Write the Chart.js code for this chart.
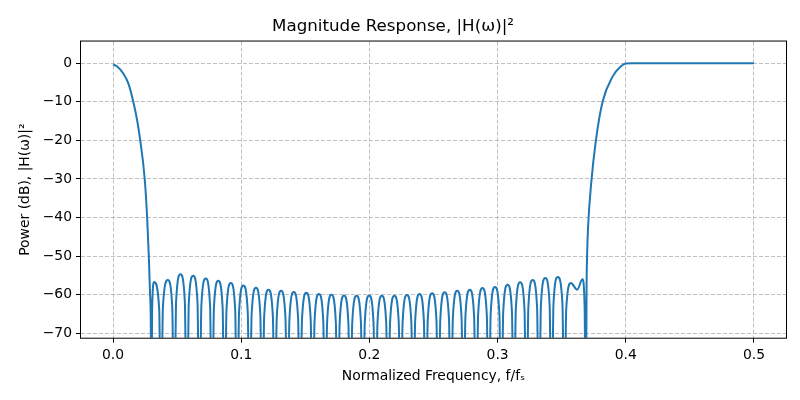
<!DOCTYPE html>
<html>
<head>
<meta charset="utf-8">
<script src="https://cdn.jsdelivr.net/npm/chart.js@4.4.0/dist/chart.umd.min.js"></script>
<style>
  html, body { margin: 0; padding: 0; background: #fff; }
</style>
</head>
<body>
<canvas id="resp" width="800" height="400"></canvas>
<script>
// low passband edge (f/fs, dB)
var lowFreq = [0, 0.003, 0.008, 0.012, 0.0158, 0.0189, 0.0212, 0.0247, 0.0266, 0.0279, 0.0289, 0.0295];
var lowDb   = [-0.35, -0.8, -2.7, -5.3, -10, -15, -20, -30, -40, -50, -60, -70];

// stopband lobes: null (drops below the axis), shoulder, peak, shoulder
var stopFreq = [
  0.0297, 0.0305, 0.0320, 0.0360,
  0.0374, 0.0389, 0.0427, 0.0462,
  0.0477, 0.0492, 0.0526, 0.0560,
  0.0576, 0.0591, 0.0625, 0.0659,
  0.0674, 0.0689, 0.0723, 0.0757,
  0.0772, 0.0787, 0.0821, 0.0855,
  0.0870, 0.0885, 0.0919, 0.0953,
  0.0968, 0.0983, 0.1017, 0.1051,
  0.1066, 0.1081, 0.1115, 0.1149,
  0.1164, 0.1179, 0.1213, 0.1247,
  0.1262, 0.1277, 0.1311, 0.1345,
  0.1361, 0.1376, 0.1410, 0.1444,
  0.1459, 0.1474, 0.1508, 0.1542,
  0.1557, 0.1572, 0.1606, 0.1640,
  0.1655, 0.1670, 0.1704, 0.1738,
  0.1753, 0.1768, 0.1802, 0.1836,
  0.1851, 0.1866, 0.1900, 0.1934,
  0.1949, 0.1964, 0.1998, 0.2032,
  0.2048, 0.2063, 0.2097, 0.2131,
  0.2146, 0.2161, 0.2195, 0.2229,
  0.2244, 0.2259, 0.2293, 0.2327,
  0.2342, 0.2357, 0.2391, 0.2425,
  0.2440, 0.2455, 0.2489, 0.2523,
  0.2538, 0.2553, 0.2587, 0.2621,
  0.2636, 0.2651, 0.2685, 0.2719,
  0.2734, 0.2749, 0.2783, 0.2817,
  0.2833, 0.2848, 0.2882, 0.2916,
  0.2931, 0.2946, 0.2980, 0.3014,
  0.3029, 0.3044, 0.3078, 0.3112,
  0.3127, 0.3142, 0.3176, 0.3210,
  0.3225, 0.3240, 0.3274, 0.3308,
  0.3323, 0.3338, 0.3372, 0.3406,
  0.3421, 0.3436, 0.3470, 0.3506,
  0.3522, 0.3535, 0.3572, 0.3621, 0.3662, 0.3679
];
var stopDb = [
  -100, -63.7, -56.7, -63.7,
  -100, -63.2, -56.2, -63.2,
  -100, -61.7, -54.7, -61.7,
  -100, -62.1, -55.1, -62.1,
  -100, -62.8, -55.8, -62.8,
  -100, -63.4, -56.4, -63.4,
  -100, -64.0, -57.0, -64.0,
  -100, -64.6, -57.6, -64.6,
  -100, -65.2, -58.2, -65.2,
  -100, -65.7, -58.7, -65.7,
  -100, -66.0, -59.0, -66.0,
  -100, -66.3, -59.3, -66.3,
  -100, -66.5, -59.5, -66.5,
  -100, -66.8, -59.8, -66.8,
  -100, -67.0, -60.0, -67.0,
  -100, -67.2, -60.2, -67.2,
  -100, -67.3, -60.3, -67.3,
  -100, -67.2, -60.2, -67.2,
  -100, -67.3, -60.3, -67.3,
  -100, -67.3, -60.3, -67.3,
  -100, -67.1, -60.1, -67.1,
  -100, -66.8, -59.8, -66.8,
  -100, -66.6, -59.6, -66.6,
  -100, -66.4, -59.4, -66.4,
  -100, -66.0, -59.0, -66.0,
  -100, -65.7, -58.7, -65.7,
  -100, -65.3, -58.3, -65.3,
  -100, -65.0, -58.0, -65.0,
  -100, -64.4, -57.4, -64.4,
  -100, -63.8, -56.8, -63.8,
  -100, -63.2, -56.2, -63.2,
  -100, -62.7, -55.7, -62.7,
  -100, -62.4, -55.4, -62.4,
  -100, -64.0, -57.0, -58.7, -56.0, -63.0
];

// high passband edge
var highFreq = [0.3688, 0.3694, 0.3698, 0.3706, 0.3730, 0.3767, 0.3819, 0.3897, 0.3962, 0.4001, 0.4060, 0.4200, 0.5000];
var highDb   = [-100, -58.9, -50.2, -42.4, -31.2, -20.0, -10.0, -3.5, -0.8, -0.1, -0.02, 0, 0];

var xTicks = [0, 0.1, 0.2, 0.3, 0.4, 0.5];
var yTicks = [0, -10, -20, -30, -40, -50, -60, -70];

var freq = lowFreq.concat(stopFreq, highFreq);
var power = lowDb.concat(stopDb, highDb);
var points = freq.map(function(f, i){
  return {x: f, y: power[i]};
});

var FONT = "'DejaVu Sans', sans-serif";
Chart.defaults.color = '#000';
Chart.defaults.font.family = FONT;

// black box round the plot area, like the axes spines
var frame = {
  id: 'frame',
  afterDraw: function(chart){
    var a = chart.chartArea;
    var c = chart.ctx;
    c.save();
    c.strokeStyle = '#000';
    c.lineWidth = 1;
    c.strokeRect(a.left - 0.5, a.top - 0.5, a.right - a.left + 1, a.bottom - a.top + 1);
    c.restore();
  }
};

var gridOpts = {
  color: '#b0b0b0',
  lineWidth: 0.8,
  tickLength: 5,
  tickColor: '#000',
  tickWidth: 1
};

new Chart(document.getElementById('resp'), {
  type: 'line',
  data: {
    datasets: [{
      data: points,
      borderColor: '#1f77b4',
      borderWidth: 2,
      pointRadius: 0,
      cubicInterpolationMode: 'monotone',
      fill: false,
      clip: 0
    }]
  },
  options: {
    responsive: false,
    animation: false,
    devicePixelRatio: 1,
    layout: { padding: { left: 0, right: 14, top: 0, bottom: 0 } },
    plugins: {
      legend: { display: false },
      tooltip: { enabled: false },
      title: {
        display: true,
        text: 'Magnitude Response, |H(\u03c9)|\u00b2',
        font: { size: 16.7, weight: 'normal' },
        color: '#000',
        padding: { top: 17, bottom: 4.5 }
      }
    },
    scales: {
      x: {
        type: 'linear',
        min: -0.025,
        max: 0.525,
        afterBuildTicks: function(s){
          s.ticks = xTicks.map(function(v){ return {value: v}; });
        },
        afterFit: function(s){ s.height = 62.3; },
        ticks: {
          font: { size: 13.9 },
          padding: 4,
          maxRotation: 0,
          autoSkip: false,
          callback: function(v){ return v.toFixed(1); }
        },
        grid: gridOpts,
        border: { display: false, dash: [4, 2] },
        title: {
          display: true,
          text: 'Normalized Frequency, f/f\u209b',
          font: { size: 13.9 },
          padding: { top: 0, bottom: 15.7 }
        }
      },
      y: {
        min: -71.15,
        max: 5.6,
        afterBuildTicks: function(s){
          s.ticks = yTicks.map(function(v){ return {value: v}; });
        },
        afterFit: function(s){ s.width = 81; },
        ticks: {
          font: { size: 13.9 },
          padding: 4,
          callback: function(v){ return v < 0 ? '\u2212' + Math.abs(v) : String(v); }
        },
        grid: gridOpts,
        border: { display: false, dash: [4, 2] },
        title: {
          display: true,
          text: 'Power (dB), |H(\u03c9)|\u00b2',
          font: { size: 13.9 },
          padding: { top: 17, bottom: 0 }
        }
      }
    }
  },
  plugins: [frame]
});
</script>
</body>
</html>
